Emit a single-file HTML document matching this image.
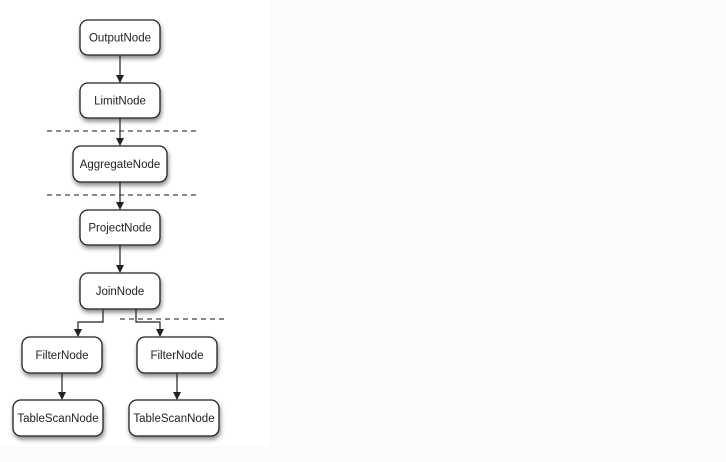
<!DOCTYPE html>
<html><head><style>html,body{margin:0;padding:0;background:#fbfbfb;}svg{display:block}</style></head>
<body>
<svg width="726" height="462" viewBox="0 0 726 462" xmlns="http://www.w3.org/2000/svg">
<defs>
<filter id="sh" x="-20%" y="-20%" width="140%" height="160%"><feDropShadow dx="1" dy="3" stdDeviation="2" flood-color="#000" flood-opacity="0.45"/></filter>
<marker id="ar" markerWidth="8" markerHeight="8" refX="7" refY="4" orient="auto" markerUnits="userSpaceOnUse"><path d="M0,0 L8,4 L0,8 z" fill="#222"/></marker>
</defs>
<rect x="0" y="0" width="270" height="446" fill="#fff"/>
<g fill="#fff" stroke="#222" stroke-width="1.3" filter="url(#sh)">
<rect x="80" y="20" width="80" height="35" rx="8"/>
<rect x="80" y="83" width="80" height="35" rx="8"/>
<rect x="73" y="146" width="94" height="36" rx="8"/>
<rect x="80" y="210" width="80" height="35" rx="8"/>
<rect x="80" y="273" width="80" height="36" rx="8"/>
<rect x="22" y="337" width="80" height="36" rx="8"/>
<rect x="137" y="337" width="80" height="36" rx="8"/>
<rect x="13" y="400" width="90" height="36" rx="8"/>
<rect x="129" y="400" width="90" height="36" rx="8"/>
</g>
<g stroke="#222" stroke-width="1.2" fill="none">
<path d="M120 55 V82" marker-end="url(#ar)"/>
<path d="M120 118 V145" marker-end="url(#ar)"/>
<path d="M120 182 V209" marker-end="url(#ar)"/>
<path d="M120 245 V272" marker-end="url(#ar)"/>
<path d="M103 309 V322 H78 V336" marker-end="url(#ar)"/>
<path d="M136 309 V322 H160 V336" marker-end="url(#ar)"/>
<path d="M62 373 V399" marker-end="url(#ar)"/>
<path d="M177 373 V399" marker-end="url(#ar)"/>
</g>
<g stroke="#444" stroke-width="1.2" stroke-dasharray="5,4">
<path d="M47 131 H197"/>
<path d="M47 195 H197"/>
<path d="M120 319 H226"/>
</g>
<g font-family="Liberation Sans, sans-serif" font-size="11.5" fill="#222" text-anchor="middle">
<text x="120" y="41.5">OutputNode</text>
<text x="120" y="104.5">LimitNode</text>
<text x="120" y="168">AggregateNode</text>
<text x="120" y="231.5">ProjectNode</text>
<text x="120" y="295">JoinNode</text>
<text x="62" y="359">FilterNode</text>
<text x="177" y="359">FilterNode</text>
<text x="58" y="422">TableScanNode</text>
<text x="174" y="422">TableScanNode</text>
</g>
</svg>
</body></html>
